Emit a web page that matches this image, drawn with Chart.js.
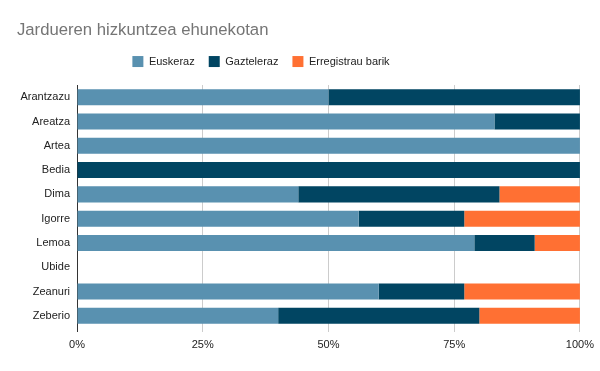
<!DOCTYPE html>
<html>
<head>
<meta charset="utf-8">
<script src="https://cdn.jsdelivr.net/npm/chart.js@4.4.1/dist/chart.umd.min.js"></script>
<style>
  html, body { margin: 0; padding: 0; background: #fff; }
  #wrap { width: 600px; height: 371px; }
</style>
</head>
<body>
<div id="wrap"><canvas id="chart" width="600" height="371"></canvas></div>
<script>
const herriak = ['Arantzazu', 'Areatza', 'Artea', 'Bedia', 'Dima', 'Igorre', 'Lemoa', 'Ubide', 'Zeanuri', 'Zeberio']
const euskeraz = [50, 83, 100, 0, 44, 56, 79, 0, 60, 40]
const gazteleraz = [50, 17, 0, 100, 40, 21, 12, 0, 17, 40]
const erregistrauBarik = [0, 0, 0, 0, 16, 23, 9, 0, 23, 20]
const xTicks = [0, 25, 50, 75, 100]

const font = 'Liberation Sans, Arial, sans-serif'

// legend needs a bit more room below it, and sits left of centre
const legendTweak = {
  id: 'legendTweak',
  beforeInit(chart) {
    const fit = chart.legend.fit
    chart.legend.fit = function () {
      fit.bind(chart.legend)()
      this.height += 8
    }
  },
  afterLayout(chart) {
    chart.legend.right -= 76
  }
}

new Chart(document.getElementById('chart'), {
  type: 'bar',
  data: {
    labels: herriak,
    datasets: [
      { label: 'Euskeraz', data: euskeraz, backgroundColor: '#5991b0' },
      { label: 'Gazteleraz', data: gazteleraz, backgroundColor: '#014562' },
      { label: 'Erregistrau barik', data: erregistrauBarik, backgroundColor: '#ff7033' }
    ]
  },
  options: {
    indexAxis: 'y',
    responsive: false,
    animation: false,
    datasets: { bar: { barPercentage: 0.66, categoryPercentage: 1 } },
    layout: { padding: { left: 17, right: 19, top: 6, bottom: 0 } },
    plugins: {
      title: {
        display: true,
        text: 'Jardueren hizkuntzea ehunekotan',
        align: 'start',
        color: '#757575',
        font: { family: font, size: 16.7, weight: 'normal' },
        padding: { top: 14, bottom: 2 }
      },
      legend: {
        labels: {
          boxWidth: 11,
          boxHeight: 11,
          padding: 14,
          color: '#222',
          font: { family: font, size: 11 }
        }
      },
      tooltip: { enabled: false }
    },
    scales: {
      x: {
        stacked: true,
        min: 0,
        max: 100,
        afterBuildTicks(axis) {
          axis.ticks = xTicks.map(v => ({ value: v }))
        },
        afterFit(axis) { axis.height = 43 },
        grid: {
          color: ctx => ctx.tick && ctx.tick.value === 0 ? '#333' : '#ccc',
          tickLength: 4
        },
        border: { display: false },
        ticks: {
          padding: 6,
          color: '#222',
          font: { family: font, size: 11 },
          callback: v => v + '%'
        }
      },
      y: {
        stacked: true,
        afterFit(axis) { axis.width = 60 },
        grid: { display: false, drawTicks: false },
        border: { color: '#333' },
        ticks: {
          padding: 7,
          color: '#222',
          font: { family: font, size: 11 }
        }
      }
    }
  },
  plugins: [legendTweak]
})
</script>
</body>
</html>
